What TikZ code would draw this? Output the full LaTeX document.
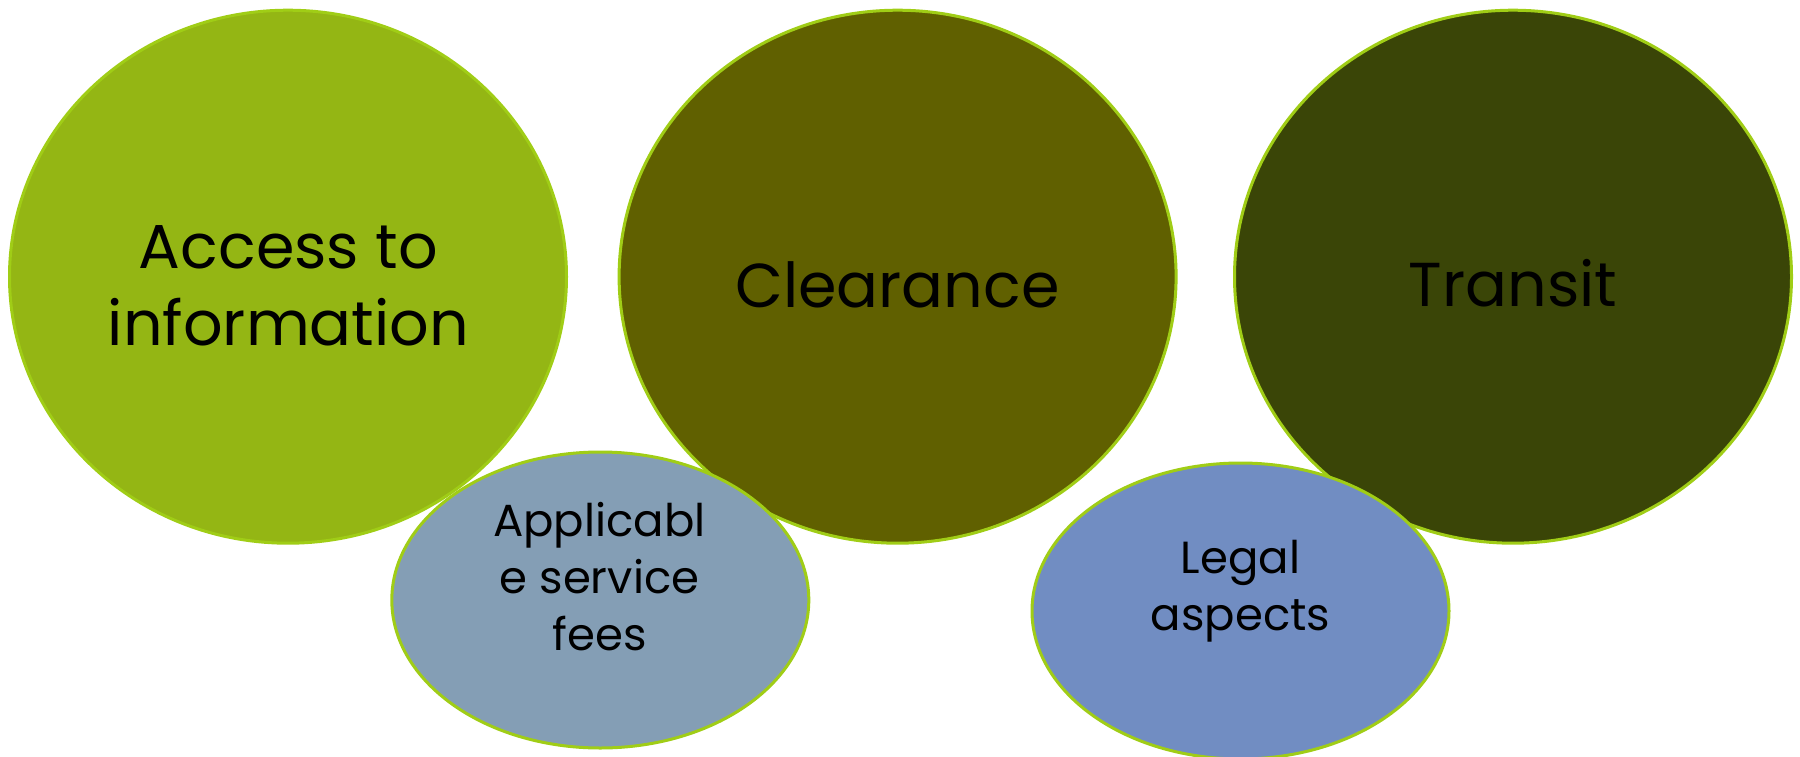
\documentclass[tikz,border=0pt]{standalone}
\usepackage{fontspec}
\setmainfont{Poppins}
\usetikzlibrary{shapes.geometric}
\definecolor{rim}{RGB}{160,205,22}
\definecolor{cA}{RGB}{148,182,20}
\definecolor{cB}{RGB}{96,96,0}
\definecolor{cC}{RGB}{58,69,7}
\definecolor{cD}{RGB}{132,158,181}
\definecolor{cE}{RGB}{113,141,194}
\begin{document}
\begin{tikzpicture}[x=1pt,y=-1pt,
  bubble/.style={ellipse,draw=rim,line width=3pt,inner sep=0pt},
  big/.style={bubble,minimum width=557pt,minimum height=533pt},
  small/.style={bubble,minimum width=417pt,minimum height=296pt},
  bigtext/.style={anchor=base,align=center,inner sep=0pt,text=black,font=\fontsize{62}{77}\selectfont},
  smalltext/.style={anchor=base,align=center,inner sep=0pt,text=black,font=\fontsize{45}{57}\selectfont}]
\useasboundingbox (0,0) rectangle (1800,756);
\node[big,fill=cA] (access) at (288,276.7) {};
\node[big,fill=cB] (clear) at (897.6,276.7) {};
\node[big,fill=cC] (transit) at (1513,276.7) {};
\node[small,fill=cD] (fees) at (600.3,600) {};
\node[small,fill=cE] (legal) at (1240.5,611) {};
\node[bigtext] (accessT) at (288.5,345) {Access to\\information};
\node[bigtext] (clearT) at (897.5,307) {Clearance};
\node[bigtext] (transitT) at (1513,306.7) {Transit};
\node[smalltext] (feesT) at (599.5,650) {Applicabl\\e service\\fees};
\node[smalltext] (legalT) at (1240.5,630) {Legal\\aspects};
\end{tikzpicture}
\end{document}
